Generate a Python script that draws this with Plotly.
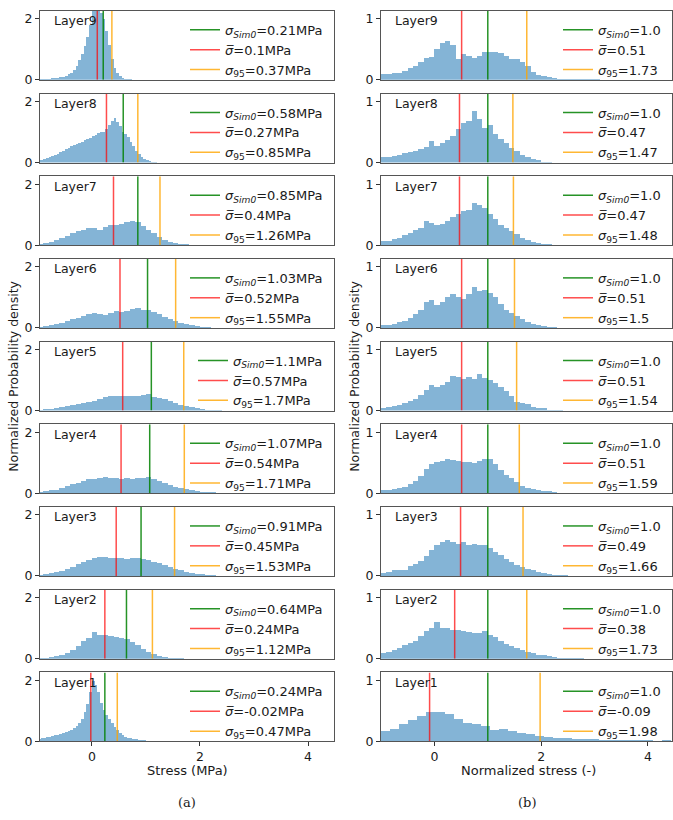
import plotly.graph_objects as go
from plotly.subplots import make_subplots

layers = [9, 8, 7, 6, 5, 4, 3, 2, 1]

# ---- left column: stress (MPa) ----
stress_sim0 = [0.21, 0.58, 0.85, 1.03, 1.1, 1.07, 0.91, 0.64, 0.24]
stress_mean = [0.1, 0.27, 0.4, 0.52, 0.57, 0.54, 0.45, 0.24, -0.02]
stress_p95 = [0.37, 0.85, 1.26, 1.55, 1.7, 1.71, 1.53, 1.12, 0.47]
stress_bin_start = [-1.0] * 9
stress_bin_width = [0.05, 0.05, 0.1, 0.1, 0.1, 0.1, 0.1, 0.1, 0.05]

s_L9 = [0.02, 0.02, 0.03, 0.03, 0.04, 0.05, 0.06, 0.07, 0.09, 0.11,
        0.14, 0.18, 0.24, 0.32, 0.45, 0.65, 0.85, 1.1, 1.4, 1.8,
        2.3, 2.4, 2.35, 2.2, 2.0, 1.6, 1.15, 0.7, 0.4, 0.22,
        0.12, 0.07, 0.04, 0.03, 0.02, 0.01]
s_L8 = [0.08, 0.1, 0.12, 0.15, 0.18, 0.22, 0.26, 0.3, 0.36, 0.4,
        0.45, 0.5, 0.54, 0.58, 0.62, 0.66, 0.7, 0.74, 0.78, 0.82,
        0.88, 0.93, 0.98, 1.0, 1.02, 1.1, 1.25, 1.38, 1.47, 1.35,
        1.2, 1.02, 0.95, 0.85, 0.7, 0.55, 0.4, 0.3, 0.2, 0.14,
        0.1, 0.06, 0.04, 0.02, 0.01, 0.01]
s_L7 = [0.04, 0.06, 0.1, 0.15, 0.22, 0.3, 0.38, 0.45, 0.5, 0.56,
        0.54, 0.48, 0.58, 0.64, 0.66, 0.7, 0.76, 0.8, 0.74, 0.62,
        0.5, 0.38, 0.26, 0.15, 0.08, 0.05, 0.03, 0.02, 0.01]
s_L6 = [0.04, 0.05, 0.08, 0.12, 0.16, 0.22, 0.28, 0.34, 0.4, 0.45,
        0.48, 0.44, 0.42, 0.5, 0.54, 0.53, 0.56, 0.62, 0.65, 0.6,
        0.58, 0.52, 0.45, 0.36, 0.3, 0.22, 0.17, 0.12, 0.08, 0.05,
        0.03, 0.02, 0.01]
s_L5 = [0.04, 0.05, 0.07, 0.09, 0.12, 0.16, 0.19, 0.22, 0.26, 0.3,
        0.34, 0.38, 0.44, 0.48, 0.5, 0.49, 0.5, 0.48, 0.5, 0.52,
        0.55, 0.47, 0.43, 0.38, 0.33, 0.27, 0.21, 0.16, 0.12, 0.09,
        0.06, 0.04, 0.03, 0.02, 0.01, 0.01]
s_L4 = [0.04, 0.05, 0.08, 0.11, 0.16, 0.22, 0.28, 0.34, 0.4, 0.47,
        0.45, 0.48, 0.51, 0.5, 0.49, 0.47, 0.48, 0.46, 0.48, 0.5,
        0.51, 0.44, 0.38, 0.32, 0.26, 0.2, 0.15, 0.12, 0.09, 0.06,
        0.04, 0.03, 0.02, 0.01, 0.01]
s_L3 = [0.04, 0.06, 0.08, 0.12, 0.16, 0.22, 0.3, 0.38, 0.46, 0.52,
        0.58, 0.62, 0.63, 0.6, 0.58, 0.58, 0.56, 0.58, 0.58, 0.55,
        0.52, 0.46, 0.42, 0.36, 0.3, 0.24, 0.18, 0.13, 0.1, 0.07,
        0.05, 0.03, 0.02, 0.01]
s_L2 = [0.03, 0.04, 0.06, 0.09, 0.12, 0.18, 0.28, 0.42, 0.58, 0.7,
        0.88, 0.78, 0.78, 0.76, 0.73, 0.7, 0.66, 0.56, 0.45, 0.33,
        0.24, 0.16, 0.1, 0.07, 0.04, 0.03, 0.02, 0.01]
s_L1 = [0.06, 0.08, 0.1, 0.12, 0.14, 0.16, 0.18, 0.2, 0.22, 0.25,
        0.28, 0.32, 0.36, 0.42, 0.5, 0.6, 0.72, 0.95, 1.2, 1.6,
        1.98, 1.85, 1.6, 1.25, 1.0, 0.85, 0.72, 0.58, 0.45, 0.35,
        0.25, 0.18, 0.14, 0.11, 0.09, 0.07, 0.05, 0.04, 0.03, 0.02,
        0.01, 0.01]
stress_hists = [s_L9, s_L8, s_L7, s_L6, s_L5, s_L4, s_L3, s_L2, s_L1]

# ---- right column: normalized stress (-) ----
norm_sim0 = [1.0] * 9
norm_mean = [0.51, 0.47, 0.47, 0.51, 0.51, 0.51, 0.49, 0.38, -0.09]
norm_p95 = [1.73, 1.47, 1.48, 1.5, 1.54, 1.59, 1.66, 1.73, 1.98]
norm_bin_start = [-1.0] * 9
norm_bin_width = [0.1, 0.1, 0.1, 0.1, 0.1, 0.1, 0.1, 0.1, 0.17]

n_L9 = [0.1, 0.1, 0.11, 0.12, 0.15, 0.2, 0.22, 0.3, 0.36, 0.38,
        0.5, 0.6, 0.63, 0.58, 0.34, 0.42, 0.4, 0.36, 0.4, 0.46,
        0.45, 0.46, 0.44, 0.4, 0.35, 0.34, 0.3, 0.22, 0.13, 0.08,
        0.06, 0.04, 0.03, 0.02, 0.02, 0.015, 0.01, 0.01, 0.01, 0.01, 0.01]
n_L8 = [0.09, 0.1, 0.12, 0.13, 0.16, 0.18, 0.2, 0.23, 0.26, 0.36,
        0.28, 0.33, 0.38, 0.44, 0.56, 0.65, 0.68, 0.85, 0.72, 0.58,
        0.62, 0.47, 0.4, 0.32, 0.25, 0.2, 0.13, 0.09, 0.06, 0.04,
        0.02, 0.01]
n_L7 = [0.06, 0.07, 0.1, 0.12, 0.16, 0.2, 0.24, 0.28, 0.4, 0.36,
        0.32, 0.35, 0.4, 0.45, 0.5, 0.55, 0.58, 0.68, 0.66, 0.6,
        0.5, 0.42, 0.33, 0.28, 0.22, 0.18, 0.12, 0.08, 0.05, 0.03,
        0.02, 0.01]
n_L6 = [0.04, 0.05, 0.07, 0.1, 0.12, 0.16, 0.22, 0.3, 0.42, 0.46,
        0.38, 0.42, 0.5, 0.56, 0.5, 0.47, 0.55, 0.67, 0.6, 0.62,
        0.58, 0.5, 0.39, 0.3, 0.25, 0.2, 0.15, 0.1, 0.07, 0.04,
        0.03, 0.02, 0.01]
n_L5 = [0.05, 0.06, 0.08, 0.1, 0.13, 0.17, 0.2, 0.26, 0.35, 0.42,
        0.4, 0.43, 0.48, 0.57, 0.55, 0.53, 0.55, 0.53, 0.6, 0.54,
        0.5, 0.46, 0.4, 0.33, 0.25, 0.14, 0.13, 0.11, 0.07, 0.05,
        0.04, 0.02, 0.015, 0.01, 0.005, 0.005]
n_L4 = [0.04, 0.05, 0.06, 0.08, 0.1, 0.14, 0.2, 0.27, 0.4, 0.47,
        0.5, 0.52, 0.56, 0.54, 0.53, 0.5, 0.51, 0.49, 0.52, 0.56,
        0.55, 0.47, 0.38, 0.3, 0.24, 0.18, 0.12, 0.08, 0.06, 0.04,
        0.03, 0.03, 0.01]
n_L3 = [0.04, 0.06, 0.1, 0.1, 0.09, 0.17, 0.2, 0.24, 0.32, 0.42,
        0.5, 0.55, 0.59, 0.56, 0.53, 0.55, 0.5, 0.52, 0.51, 0.5,
        0.46, 0.4, 0.34, 0.28, 0.22, 0.18, 0.15, 0.12, 0.09, 0.06,
        0.05, 0.03, 0.02, 0.015, 0.01, 0.005]
n_L2 = [0.1, 0.11, 0.14, 0.18, 0.22, 0.26, 0.3, 0.38, 0.45, 0.5,
        0.6, 0.5, 0.5, 0.48, 0.47, 0.46, 0.44, 0.42, 0.42, 0.45,
        0.4, 0.36, 0.3, 0.24, 0.21, 0.18, 0.15, 0.11, 0.09, 0.07,
        0.06, 0.04, 0.03, 0.02, 0.02, 0.015, 0.01, 0.01, 0.005]
n_L1 = [0.16, 0.2, 0.27, 0.35, 0.41, 0.47, 0.48, 0.44, 0.36, 0.29,
        0.27, 0.24, 0.18, 0.19, 0.16, 0.13, 0.11, 0.08, 0.07, 0.05,
        0.04, 0.035, 0.03, 0.025, 0.02, 0.015, 0.015, 0.01, 0.01, 0.01,
        0.005, 0.01]
norm_hists = [n_L9, n_L8, n_L7, n_L6, n_L5, n_L4, n_L3, n_L2, n_L1]

x_ticks = [0, 2, 4]
stress_yticks = [0, 2]
norm_yticks = [0, 1]

# ---- styling ----
W, H = 673, 820
FONT = "DejaVu Sans"
BAR_COLOR = "rgba(31,119,180,0.55)"
GREEN = "rgba(0,128,0,0.85)"
RED = "rgba(255,0,0,0.7)"
ORANGE = "rgba(255,165,0,0.8)"
FRAME = "#555555"
TXT = "#1a1a1a"

col_px = [(40, 334), (381, 672)]
row_top0, row_pitch, row_h = 11, 83.4, 69.5
x_ranges = [[-0.96, 4.48], [-1.0, 4.45]]
y_ranges = [[0, 2.26], [0, 1.13]]

fig = make_subplots(rows=9, cols=2)

legend_layouts = {}
for r in range(9):
    for c in range(2):
        k = r * 2 + c + 1
        if c == 0:
            hist, start, width = stress_hists[r], stress_bin_start[r], stress_bin_width[r]
            sim0, mean, p95, unit = stress_sim0[r], stress_mean[r], stress_p95[r], "MPa"
        else:
            hist, start, width = norm_hists[r], norm_bin_start[r], norm_bin_width[r]
            sim0, mean, p95, unit = norm_sim0[r], norm_mean[r], norm_p95[r], ""
        centers = [start + width * (i + 0.5) for i in range(len(hist))]
        fig.add_trace(go.Bar(x=centers, y=hist, width=width,
                             marker=dict(color=BAR_COLOR, line=dict(width=0)),
                             showlegend=False, hoverinfo="skip"), row=r + 1, col=c + 1)
        ytop = y_ranges[c][1]
        lname = "legend" if k == 1 else f"legend{k}"
        entries = [
            (sim0, GREEN, f"<i>σ</i><sub><i>Sim0</i></sub>={sim0}{unit}"),
            (mean, RED, f"<i>σ\u0305</i>={mean}{unit}"),
            (p95, ORANGE, f"<i>σ</i><sub>95</sub>={p95}{unit}"),
        ]
        for j, (v, colr, name) in enumerate(entries):
            fig.add_trace(go.Scatter(x=[v, v], y=[0, ytop], mode="lines",
                                     line=dict(color=colr, width=1.5),
                                     name=name, legend=lname, legendgroup=f"g{k}_{j}",
                                     hoverinfo="skip"), row=r + 1, col=c + 1)
        top = row_top0 + row_pitch * r
        x0, x1 = col_px[c]
        legend_layouts[lname] = dict(
            x=(x1 - 6) / W, xanchor="right", y=1 - (top + 4) / H, yanchor="top",
            bgcolor="rgba(0,0,0,0)", borderwidth=0, tracegroupgap=4,
            font=dict(family=FONT, size=13, color=TXT), traceorder="normal",
        )
        xa = "xaxis" if k == 1 else f"xaxis{k}"
        ya = "yaxis" if k == 1 else f"yaxis{k}"
        bottom = (r == 8)
        fig.layout[xa].update(
            domain=[x0 / W, x1 / W], range=x_ranges[c], tickvals=x_ticks,
            showticklabels=bottom, ticks="outside" if bottom else "", ticklen=4,
            tickcolor="#333", showline=True, mirror=True, linecolor=FRAME, linewidth=1,
            showgrid=False, zeroline=False,
            tickfont=dict(family=FONT, size=12.5, color=TXT))
        fig.layout[ya].update(
            domain=[1 - (top + row_h) / H, 1 - top / H], range=y_ranges[c],
            tickvals=stress_yticks if c == 0 else norm_yticks,
            ticks="outside", ticklen=4, tickcolor="#333",
            showline=True, mirror=True, linecolor=FRAME, linewidth=1,
            showgrid=False, zeroline=False,
            tickfont=dict(family=FONT, size=12.5, color=TXT))
        fig.add_annotation(text=f"Layer{layers[r]}", xref="paper", yref="paper",
                           x=(x0 + 12) / W, y=1 - (top + 10) / H, xanchor="left", yanchor="middle",
                           showarrow=False, font=dict(family=FONT, size=12.5, color=TXT))

fig.update_layout(**legend_layouts)

ymid = 1 - 380 / H
for xpx, txt in [(14, "Normalized Probability density"), (355, "Normalized Probability density")]:
    fig.add_annotation(text=txt, xref="paper", yref="paper", x=xpx / W, y=ymid,
                       textangle=-90, showarrow=False, xanchor="center", yanchor="middle",
                       font=dict(family=FONT, size=12.5, color=TXT))
for xpx, txt in [(187, "Stress (MPa)"), (528, "Normalized stress (-)")]:
    fig.add_annotation(text=txt, xref="paper", yref="paper", x=xpx / W, y=1 - 777 / H,
                       showarrow=False, xanchor="center", yanchor="middle",
                       font=dict(family=FONT, size=13, color=TXT))
for xpx, txt in [(187, "(a)"), (527, "(b)")]:
    fig.add_annotation(text=txt, xref="paper", yref="paper", x=xpx / W, y=1 - 809 / H,
                       showarrow=False, xanchor="center", yanchor="middle",
                       font=dict(family="DejaVu Serif", size=13, color=TXT))

fig.update_layout(width=W, height=H, margin=dict(l=0, r=0, t=0, b=0),
                  paper_bgcolor="white", plot_bgcolor="white", bargap=0,
                  barmode="overlay")

fig.write_html("out.html")
